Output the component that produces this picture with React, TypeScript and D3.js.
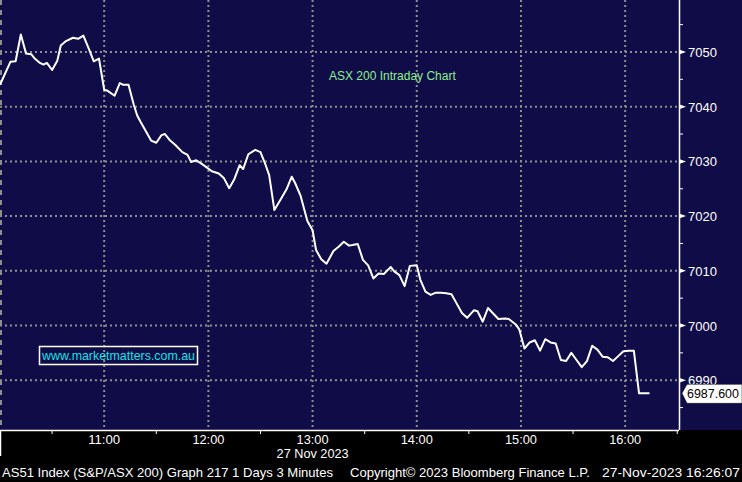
import React from "react";
import * as d3 from "d3";

// minutes after 10:00 (27 Nov 2023)
const minutes = [
  0, 6, 9, 12, 15, 18, 20, 23, 25, 27,
  30, 33, 35, 38, 42, 45, 48, 51, 54, 57,
  60, 62, 66, 69, 71, 74, 77, 79, 81, 84,
  87, 90, 93, 95, 98, 101, 105, 108, 110, 113,
  116, 119, 122, 126, 129, 132, 135, 138, 140, 143,
  147, 150, 153, 155, 158, 161, 165, 168, 170, 173,
  177, 180, 182, 185, 188, 192, 195, 198, 201, 203,
  206, 209, 212, 215, 218, 221, 225, 227, 230, 233,
  236, 240, 242, 245, 248, 251, 254, 257, 260, 263,
  266, 269, 273, 275, 278, 281, 284, 287, 291, 293,
  297, 299, 302, 305, 308, 311, 314, 317, 320, 323,
  326, 329, 332, 335, 338, 341, 344, 347, 350, 353,
  356, 359, 362, 365, 368, 370, 374,
];

const values = [
  7044.0, 7048.2, 7048.3, 7053.2, 7049.7, 7049.6, 7048.8, 7048.0, 7047.7, 7048.0,
  7046.7, 7048.4, 7051.2, 7052.0, 7052.6, 7052.4, 7053.0, 7050.7, 7048.3, 7048.8,
  7043.1, 7042.9, 7042.0, 7044.3, 7044.0, 7044.0, 7040.4, 7038.4, 7037.2, 7035.5,
  7033.8, 7033.4, 7034.8, 7035.0, 7033.8, 7033.0, 7031.7, 7031.2, 7029.9, 7030.2,
  7029.6, 7028.9, 7028.2, 7027.8, 7026.9, 7025.1, 7026.8, 7029.3, 7028.6, 7031.3,
  7032.1, 7031.7, 7029.3, 7027.5, 7021.1, 7022.7, 7024.9, 7027.2, 7026.0, 7023.8,
  7019.1, 7017.4, 7013.8, 7012.1, 7011.3, 7013.6, 7014.4, 7015.3, 7014.6, 7014.7,
  7014.9, 7012.0, 7011.0, 7008.6, 7009.5, 7009.4, 7010.7, 7009.9, 7009.2, 7007.2,
  7010.9, 7011.0, 7008.4, 7006.2, 7005.6, 7006.0, 7006.0, 7005.9, 7005.7, 7004.0,
  7002.3, 7001.4, 7002.8, 7002.6, 7000.7, 7003.2, 7002.2, 7001.2, 7001.3, 7001.2,
  7000.2, 6999.3, 6995.8, 6996.9, 6997.3, 6995.4, 6997.5, 6996.9, 6996.7, 6993.7,
  6993.5, 6995.0, 6993.7, 6992.4, 6993.5, 6996.3, 6995.6, 6994.3, 6994.2, 6993.5,
  6994.4, 6995.3, 6995.4, 6995.4, 6987.6, 6987.6, 6987.6,
];

const yTicks = [6990, 7000, 7010, 7020, 7030, 7040, 7050];
const yMinorTicks = [6985, 6995, 7005, 7015, 7025, 7035, 7045, 7055];
const xTickMinutes = [60, 120, 180, 240, 300, 360];
const xTickLabels = ["11:00", "12:00", "13:00", "14:00", "15:00", "16:00"];
const xMinorMinutes = [30, 90, 150, 210, 270, 330, 390];
const lastValue = 6987.6;
const title = "ASX 200 Intraday Chart";
const watermark = "www.marketmatters.com.au";
const dateLabel = "27 Nov 2023";
const footerLeft = "AS51 Index (S&P/ASX 200) Graph 217 1 Days 3 Minutes";
const footerMid = "Copyright\u00A9 2023 Bloomberg Finance L.P.";
const footerRight = "27-Nov-2023 16:26:07";

export default function App() {
  const W = 742;
  const H = 482;
  const plotW = 679;
  const plotH = 430;
  const x = d3.scaleLinear().domain([0, 391]).range([0, plotW]);
  const y = d3.scaleLinear().domain([6980.9, 7059.5]).range([plotH, 0]);
  const n = Math.min(minutes.length, values.length);
  const pts: [number, number][] = [];
  for (let i = 0; i < n; i++) pts.push([minutes[i], values[i]]);
  const line = d3
    .line<[number, number]>()
    .x((d) => x(d[0]))
    .y((d) => y(d[1]));

  const bg = "#0f0c48";
  const grid = "#8e8e8e";
  const axisFont = "'Liberation Sans', Arial, sans-serif";
  const yLast = y(lastValue);

  return (
    <svg
      width={W}
      height={H}
      style={{ position: "absolute", left: 0, top: 0, display: "block" }}
    >
      <rect x={0} y={0} width={W} height={H} fill="#000" />
      <rect x={0} y={0} width={W} height={plotH} fill={bg} />
      {/* grid */}
      {yTicks.map((t) => (
        <line
          key={"gy" + t}
          x1={0}
          x2={plotW}
          y1={y(t)}
          y2={y(t)}
          stroke={grid}
          strokeWidth={2}
          strokeDasharray="2,3"
        />
      ))}
      {xTickMinutes.map((t) => (
        <line
          key={"gx" + t}
          x1={x(t)}
          x2={x(t)}
          y1={0}
          y2={plotH}
          stroke={grid}
          strokeWidth={2}
          strokeDasharray="2,3"
        />
      ))}
      <line x1={1} x2={1} y1={0} y2={plotH} stroke={grid} strokeWidth={2} strokeDasharray="5,5" />
      {/* price line */}
      <path d={line(pts) || ""} fill="none" stroke="#ffffff" strokeWidth={2} strokeLinejoin="round" />
      {/* title */}
      <text x={329} y={80} fill="#8cf08c" fontFamily="Arial, 'Liberation Sans', sans-serif" fontSize={12}>
        {title}
      </text>
      {/* watermark */}
      <rect x={39.5} y={346.5} width={158} height={18} fill="none" stroke="#ffffff" strokeWidth={1.5} />
      <text
        x={118.5}
        y={360}
        textAnchor="middle"
        fill="#14e2e6"
        fontFamily="Arial, 'Liberation Sans', sans-serif"
        fontSize={13}
        textLength={153}
        lengthAdjust="spacingAndGlyphs"
      >
        {watermark}
      </text>
      {/* right axis */}
      <line x1={plotW + 0.5} x2={plotW + 0.5} y1={0} y2={plotH} stroke="#ffffff" strokeWidth={1.5} />
      {yMinorTicks.map((t) => (
        <line key={"ym" + t} x1={plotW} x2={plotW + 4} y1={y(t)} y2={y(t)} stroke="#ffffff" strokeWidth={1} />
      ))}
      {yTicks.map((t) => (
        <g key={"yt" + t}>
          <path
            d={`M${plotW},${y(t) - 2.5} L${plotW + 7},${y(t)} L${plotW},${y(t) + 2.5} Z`}
            fill="#ffffff"
          />
          <text x={plotW + 9} y={y(t) + 5} fill="#ffffff" fontFamily={axisFont} fontSize={13}>
            {t}
          </text>
        </g>
      ))}
      {/* last value tag */}
      <path
        d={`M${plotW + 3},${yLast} L${plotW + 8},${yLast - 9} L${W},${yLast - 9} L${W},${yLast + 10} L${plotW + 8},${yLast + 10} Z`}
        fill="#ffffff"
        stroke="#000"
        strokeWidth={0.5}
      />
      <text
        x={plotW + 8}
        y={yLast + 5}
        fill="#000"
        fontFamily={axisFont}
        fontSize={13}
        textLength={52}
        lengthAdjust="spacingAndGlyphs"
      >
        {lastValue.toFixed(3)}
      </text>
      {/* bottom axis */}
      <line x1={0} x2={plotW} y1={plotH + 0.5} y2={plotH + 0.5} stroke="#ffffff" strokeWidth={1.5} />
      <line x1={0.5} x2={0.5} y1={plotH} y2={plotH + 26} stroke="#ffffff" strokeWidth={1.5} />
      {xMinorMinutes.map((t) => (
        <line key={"xm" + t} x1={x(t)} x2={x(t)} y1={plotH} y2={plotH + 4} stroke="#ffffff" strokeWidth={1} />
      ))}
      {xTickMinutes.map((t, i) => (
        <text
          key={"xt" + t}
          x={x(t)}
          y={plotH + 14}
          textAnchor="middle"
          fill="#ffffff"
          fontFamily={axisFont}
          fontSize={13}
          textLength={32}
          lengthAdjust="spacingAndGlyphs"
        >
          {xTickLabels[i]}
        </text>
      ))}
      <text
        x={x(180)}
        y={plotH + 28}
        textAnchor="middle"
        fill="#ffffff"
        fontFamily={axisFont}
        fontSize={13}
        textLength={72}
        lengthAdjust="spacingAndGlyphs"
      >
        {dateLabel}
      </text>
      {/* footer */}
      <text x={2} y={477} fill="#ffffff" fontFamily={axisFont} fontSize={13} textLength={331} lengthAdjust="spacingAndGlyphs">
        {footerLeft}
      </text>
      <text x={350} y={477} fill="#ffffff" fontFamily={axisFont} fontSize={13} textLength={240} lengthAdjust="spacingAndGlyphs">
        {footerMid}
      </text>
      <text x={602} y={477} fill="#ffffff" fontFamily={axisFont} fontSize={13} textLength={138} lengthAdjust="spacingAndGlyphs">
        {footerRight}
      </text>
    </svg>
  );
}
